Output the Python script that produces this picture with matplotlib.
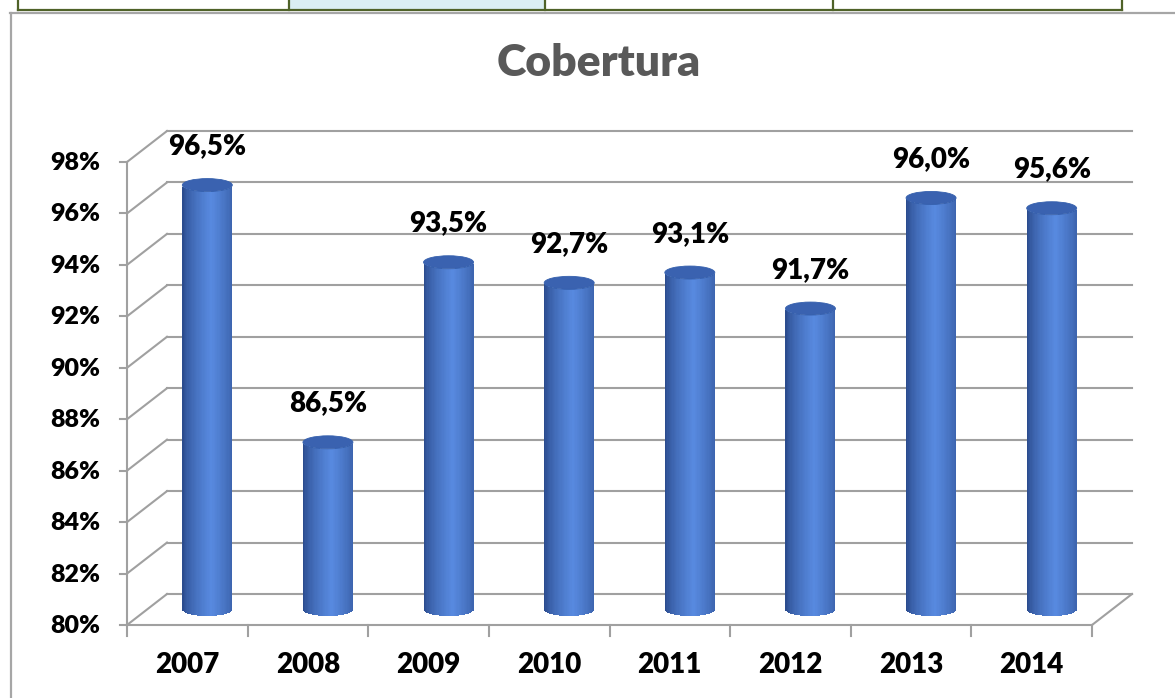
import matplotlib.pyplot as plt
import matplotlib.transforms as mtransforms
from matplotlib.patches import Ellipse, Rectangle
import numpy as np

# dados
anos = ['2007', '2008', '2009', '2010', '2011', '2012', '2013', '2014']
cobertura = [96.5, 86.5, 93.5, 92.7, 93.1, 91.7, 96.0, 95.6]
rotulos = ['96,5%', '86,5%', '93,5%', '92,7%', '93,1%', '91,7%', '96,0%', '95,6%']
yticks = [80, 82, 84, 86, 88, 90, 92, 94, 96, 98]
ytick_labels = ['80%', '82%', '84%', '86%', '88%', '90%', '92%', '94%', '96%', '98%']

plt.rcParams['font.family'] = ['Lato', 'DejaVu Sans']
peso = 'heavy'

W, H, DPI = 1175, 698, 100
fig = plt.figure(figsize=(W / DPI, H / DPI), dpi=DPI)

# fundo: moldura do grafico e pedaco da tabela em cima
bg = fig.add_axes([0, 0, 1, 1])
bg.set_xlim(0, W)
bg.set_ylim(H, 0)
bg.axis('off')
bg.add_patch(Rectangle((289, -2), 256, 12, color='#DAEEF3', lw=0))
verde = '#4F6228'
for xv in [18, 289, 545, 833, 1122]:
    bg.plot([xv, xv], [-2, 10], color=verde, lw=1.6)
bg.plot([18, 1122], [10, 10], color=verde, lw=1.6)
bg.plot([10, 1180], [12.5, 12.5], color='#A6A6A6', lw=1.6)
bg.plot([10.5, 10.5], [12.5, 700], color='#A6A6A6', lw=1.6)

bg.text(599, 63, 'Cobertura', ha='center', va='center', fontsize=32,
        fontweight=peso, color='#595959')

# plano frontal do grafico 3D
left, right, bottom, top = 127, 1092, 625, 162
ax = fig.add_axes([left / W, (H - bottom) / H, (right - left) / W, (bottom - top) / H])
ax.set_xlim(-0.5, len(anos) - 0.5)
ax.set_ylim(80, 98)
ax.axis('off')
ax.patch.set_alpha(0)

dx, dy = 0.40, 0.31  # profundidade (polegadas)
back = ax.transData + mtransforms.ScaledTranslation(dx, dy, fig.dpi_scale_trans)
mid = ax.transData + mtransforms.ScaledTranslation(dx / 2, dy / 2, fig.dpi_scale_trans)
to_bg = bg.transData.inverted()

grid_c = '#A0A0A0'
n = len(anos)
for t in yticks:
    ax.plot([-0.5, n - 0.5], [t, t], color=grid_c, lw=1.5, transform=back,
            clip_on=False, zorder=1)
    # linha diagonal da parede lateral
    p0 = to_bg.transform(ax.transData.transform((-0.5, t)))
    p1 = to_bg.transform(back.transform((-0.5, t)))
    bg.plot([p0[0], p1[0]], [p0[1], p1[1]], color=grid_c, lw=1.5, zorder=1)

# piso: borda frontal e diagonal direita
ax.plot([-0.5, n - 0.5], [80, 80], color=grid_c, lw=1.5, clip_on=False, zorder=1)
q0 = to_bg.transform(ax.transData.transform((n - 0.5, 80)))
q1 = to_bg.transform(back.transform((n - 0.5, 80)))
bg.plot([q0[0], q1[0]], [q0[1], q1[1]], color=grid_c, lw=1.5, zorder=1)

# eixo vertical frontal
ax.plot([-0.5, -0.5], [80, 98], color=grid_c, lw=1.5, clip_on=False, zorder=1)
for t, lab in zip(yticks, ytick_labels):
    q = to_bg.transform(ax.transData.transform((-0.5, t)))
    bg.plot([q[0] - 7, q[0]], [q[1], q[1]], color=grid_c, lw=1.5)
    bg.text(q[0] - 27, q[1] + 1, lab, ha='right', va='center', fontsize=18,
            fontweight=peso, color='black')

# marcas do eixo x e rotulos
for i in range(n + 1):
    q = to_bg.transform(ax.transData.transform((i - 0.5, 80)))
    bg.plot([q[0], q[0]], [q[1], q[1] + 11], color=grid_c, lw=1.5)
for i, ano in enumerate(anos):
    q = to_bg.transform(ax.transData.transform((i, 80)))
    bg.text(q[0], 665, ano, ha='center', va='center', fontsize=20,
            fontweight=peso, color='black')

# cilindros
px_x = (right - left) / n   # pixels por categoria
px_y = (bottom - top) / 18.0
raio = 25.0 / px_x          # meia largura em unidades de x
eh = 6.5 / px_y             # meia altura da elipse em unidades de y
ns = 40
u = np.linspace(-1, 1, ns + 1)
uc = (u[:-1] + u[1:]) / 2
sw = raio * 2 / ns

dark = np.array([0x26, 0x45, 0x85]) / 255
light = np.array([0x58, 0x8A, 0xE0]) / 255
shade = np.clip(1 - np.abs(uc - 0.15) / 1.15, 0, 1) ** 0.6
cores = [tuple(dark + (light - dark) * s) for s in shade]

for i, v in enumerate(cobertura):
    xs = i + uc * raio
    e = eh * np.sqrt(1 - uc ** 2)
    bars = ax.bar(xs, v - 80, bottom=80 - e, width=sw * 1.05, color=cores,
                  lw=0, zorder=3)
    for b in bars:
        b.set_transform(mid)
        b.set_clip_on(False)
    topo = Ellipse((i, v), 2 * raio, 2 * eh, facecolor='#3A62B0',
                   edgecolor='#3560AD', lw=0.6, transform=mid, zorder=4, clip_on=False)
    ax.add_patch(topo)
    ax.annotate(rotulos[i], xy=(i, v), xycoords=mid, xytext=(0, 28),
                textcoords='offset points', ha='center', va='center',
                fontsize=20, fontweight=peso, color='black', zorder=5,
                annotation_clip=False)

fig.savefig('out.png', dpi=DPI)
